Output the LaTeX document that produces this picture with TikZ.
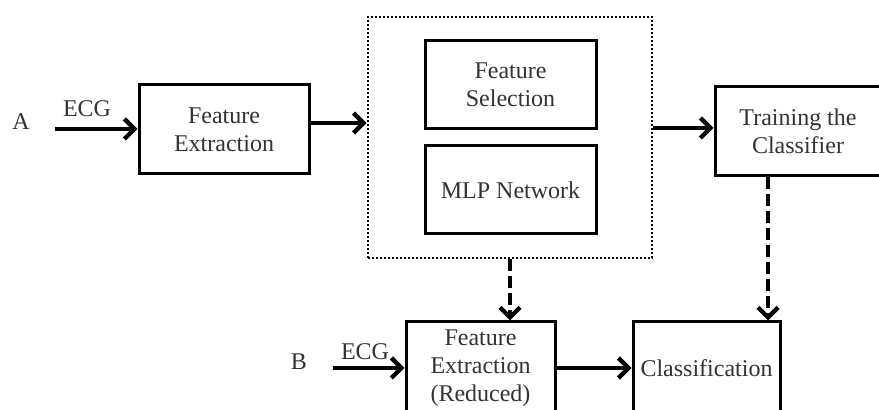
\documentclass[tikz,border=0pt]{standalone}
\usepackage{fontspec}
\setmainfont{Liberation Serif}
\usetikzlibrary{arrows.meta}
\definecolor{txt}{gray}{0.2}
\begin{document}
\begin{tikzpicture}[x=0.5pt,y=-0.5pt,
 box/.style={draw, line width=1.5pt, align=center, inner sep=0pt, text=txt, font=\fontsize{12}{14}\selectfont},
 lbl/.style={inner sep=0pt, text=txt, font=\fontsize{12}{14}\selectfont},
 arr/.style={line width=2.2pt, -{Straight Barb[length=5pt,width=10pt]}},
 darr/.style={arr, dash pattern=on 6pt off 2.5pt},
 dotbox/.style={draw, line width=1.3pt, dash pattern=on 1.1pt off 0.9pt}]
\useasboundingbox (0,0) rectangle (879,410);
\clip (0,0) rectangle (879,410);
% boxes
\node[box, minimum width=85pt, minimum height=44.5pt] (fe) at (224,129.5) {Feature\\Extraction};
\node[dotbox, minimum width=142pt, minimum height=120.5pt] (dot) at (510,137.5) {};
\node[box, minimum width=85.5pt, minimum height=44pt] (fs) at (510.5,85) {Feature\\Selection};
\node[box, minimum width=85.5pt, minimum height=44pt] (mlp) at (510.5,190) {MLP Network};
\node[box, minimum width=83pt, minimum height=44.5pt] (tr) at (798,131.5) {Training the\\Classifier};
\node[box, minimum width=74.5pt, minimum height=46pt] (fer) at (480.5,368) {Feature\\Extraction\\(Reduced)};
\node[box, minimum width=73.5pt, minimum height=46pt] (cl) at (706.5,368) {Classification};
% labels
\node[lbl] (la) at (21,122) {A};
\node[lbl] (ecga) at (87,109) {ECG};
\node[lbl] (lb) at (299,362) {B};
\node[lbl] (ecgb) at (365,352) {ECG};
% inputs
\coordinate (a0) at (55,129);
\coordinate (b0) at (333,368);
\draw[arr] (a0) -- (a0 -| fe.west);
\draw[arr] (b0) -- (fer.west);
% connectors
\draw[arr] ([yshift=3.25pt]fe.east) -- ([yshift=3.25pt]fe.east -| dot.west);
\draw[arr] ([yshift=1.75pt]tr.west -| dot.east) -- ([yshift=1.75pt]tr.west);
\draw[darr] (dot.south) -- (dot.south |- fer.north);
\draw[darr] ([xshift=-15pt]tr.south) -- ([xshift=-15pt]tr.south |- cl.north);
\draw[arr] (fer.east) -- (cl.west);
\end{tikzpicture}
\end{document}
